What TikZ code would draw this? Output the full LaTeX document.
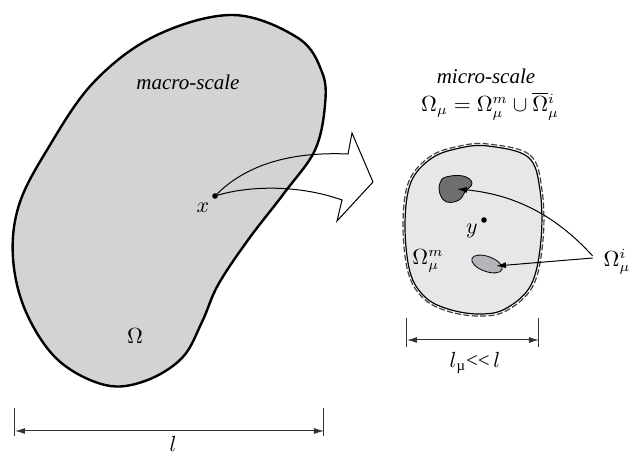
\documentclass[tikz,border=0pt]{standalone}
\usepackage{amsmath}
\usepackage{fontspec}
\setmainfont{Liberation Serif}
\usetikzlibrary{arrows.meta,calc,positioning}

\definecolor{macrogray}{HTML}{D1D3D4}
\definecolor{microgray}{HTML}{E6E7E8}
\definecolor{darkincl}{HTML}{6D6E70}
\definecolor{lightincl}{HTML}{B3B5B8}

\begin{document}
\begin{tikzpicture}[
    x=0.5pt, y=-0.5pt,
    macrodom/.style={draw=black, line width=1.2pt, fill=macrogray},
    cell/.style={draw=black, line width=0.6pt, fill=microgray},
    cellhull/.style={draw=black!75, line width=0.6pt, dash pattern=on 3pt off 1.2pt},
    incl/.style={draw=black, line width=0.4pt},
    pointer/.style={-{Latex[length=5pt,width=3pt]}, line width=0.5pt},
    dimension/.style={{Latex[length=5pt,width=3pt]}-{Latex[length=5pt,width=3pt]}, line width=0.5pt, draw=black!80},
    dimtick/.style={line width=0.5pt, draw=black!80},
    annot/.style={font=\fontsize{10.5}{12}\selectfont\itshape},
    mathlbl/.style={font=\fontsize{10.5}{12}\selectfont},
]

\useasboundingbox (0,0) rectangle (634,454);

% Macro-scale domain
\draw[macrodom] plot[smooth cycle, tension=0.6] coordinates {
    (233,15) (298,38) (322,72) (325,105) (315,150) (285,192) (248,240)
    (218,285) (202,322) (182,358) (145,381) (105,385) (58,360) (26,312)
    (13,258) (19,205) (47,150) (93,83) (155,36)};
\node[annot] (macro) at (188,82) {macro-scale};
\node[mathlbl] (om) at (135,336) {$\Omega$};

% Material point x
\coordinate (xpt) at (215,196);
\fill (xpt) circle[radius=1.4pt];
\node[mathlbl] (xlbl) at (203,208) {$x$};

% Fat arrow macro -> micro
\draw[line width=0.5pt] (xpt) .. controls (250,160) and (300,152) .. (348,154)
    -- (352,133) -- (373,182) -- (337,221) -- (342,200)
    .. controls (300,185) and (250,185) .. (xpt);

% Micro-scale RVE
\draw[cell] plot[smooth cycle, tension=0.6] coordinates {
    (488,146) (528,157) (540,190) (541,240) (531,285) (505,309) (478,314)
    (448,309) (425,297) (410,272) (405,224) (411,182) (432,158) (460,148)};
\draw[cellhull] plot[smooth cycle, tension=0.6] coordinates {
    (488,144) (530,155) (542,190) (543,240) (533,286) (506,311) (478,316)
    (447,311) (423,298) (408,272) (403,224) (409,181) (431,156) (460,146)};

% Inclusions
\draw[incl, fill=darkincl] plot[smooth cycle, tension=0.7] coordinates {
    (446,177) (463,176) (472,183) (465,192) (459,200) (447,202) (440,194) (440,183)};
\draw[incl, fill=lightincl, rotate around={-20:(487,264)}] (487,264) ellipse[x radius=16, y radius=7.5];
\coordinate (incup) at (457,189);
\coordinate (inclow) at (496,266);

% Micro point y
\coordinate (ypt) at (484,220);
\fill (ypt) circle[radius=1.4pt];
\node[mathlbl] (ylbl) at (472,231) {$y$};

% Labels
\node[annot] (micro) at (486,76) {micro-scale};
\node[mathlbl] (rve) at (490,106) {$\Omega_\mu = \Omega_\mu^m \cup \overline{\Omega}{}_\mu^i$};
\node[mathlbl] (omm) at (428,261) {$\Omega_\mu^m$};
\node[mathlbl] (omi) at (617,262) {$\Omega_\mu^i$};

% Pointers to inclusions
\draw[pointer] (omi.west) ++(-4,-6) .. controls (560,220) and (520,195) .. (incup);
\draw[pointer] (omi.west) ++(-4,-4) -- (inclow);

% Micro dimension
\draw[dimtick] (407,318) -- (407,347);
\draw[dimtick] (539,318) -- (539,347);
\coordinate (ml) at (407,340);
\coordinate (mr) at (539,340);
\draw[dimension] (ml) -- (mr);
\node[mathlbl] (mlen) at (475,363) {$l$\textsubscript{µ}<{}<\,$l$};

% Macro dimension
\draw[dimtick] (15,408) -- (15,436);
\draw[dimtick] (324,408) -- (324,436);
\coordinate (bl) at (15,431);
\coordinate (br) at (324,431);
\draw[dimension] (bl) -- (br);
\node[mathlbl] (blen) at (173,444) {$l$};

\end{tikzpicture}
\end{document}
